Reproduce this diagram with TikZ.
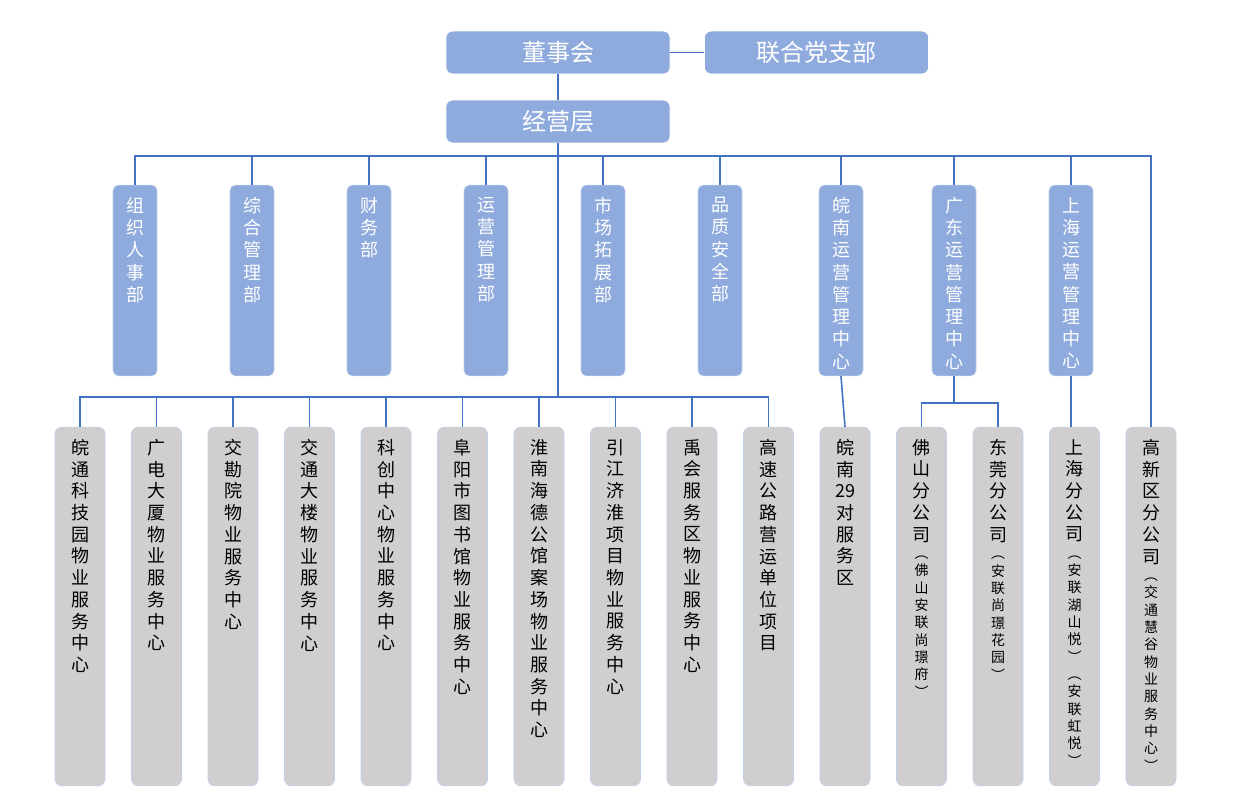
\documentclass[tikz,border=0pt]{standalone}
\usepackage{fontspec}
\setmainfont{Noto Sans CJK SC}

\definecolor{boxblue}{RGB}{143,170,220}
\definecolor{boxgray}{RGB}{208,206,206}
\definecolor{linkblue}{RGB}{68,114,196}
\definecolor{rimblue}{RGB}{190,206,235}

\newcommand{\smtxt}{\fontsize{10.5}{13}\selectfont}
\newcommand{\deptcol}[1]{\parbox[c][125pt][t]{20pt}{\centering\fontsize{13.5}{16.7}\selectfont #1}}
\newcommand{\unitcol}[1]{\parbox[c][251pt][t]{26pt}{\centering\fontsize{13.5}{16.3}\selectfont #1}}

\begin{document}
\begin{tikzpicture}[x=0.75pt,y=-0.75pt,node distance=87.75pt,
    headbox/.style={rectangle, rounded corners=5pt, fill=boxblue, draw=white, text=white,
        minimum width=168pt, minimum height=32pt, font=\fontsize{18}{20}\selectfont},
    deptbox/.style={rectangle, rounded corners=4pt, fill=boxblue, draw=rimblue, text=white,
        minimum width=33pt, inner xsep=0pt, inner ysep=9pt},
    unitbox/.style={rectangle, rounded corners=5pt, fill=boxgray, draw=rimblue, text=black,
        minimum width=37.5pt, inner xsep=0pt, inner ysep=9pt, node distance=57.375pt},
    link/.style={draw=linkblue, line width=1.2pt}]
    \useasboundingbox (0,0) rectangle (1233,811);

    % top
    \node [headbox] (board) at (558,52.5) {董事会};
    \node [headbox] (party) at (816.5,52.5) {联合党支部};
    \node [headbox] (mgmt) at (558,121.5) {经营层};

    % departments
    \node [deptbox] (d1) at (135,280.5) {\deptcol{组\\织\\人\\事\\部}};
    \node [deptbox, right of=d1] (d2) {\deptcol{综\\合\\管\\理\\部}};
    \node [deptbox, right of=d2] (d3) {\deptcol{财\\务\\部}};
    \node [deptbox, right of=d3] (d4) {\deptcol{运\\营\\管\\理\\部}};
    \node [deptbox, right of=d4] (d5) {\deptcol{市\\场\\拓\\展\\部}};
    \node [deptbox, right of=d5] (d6) {\deptcol{品\\质\\安\\全\\部}};
    \node [deptbox] (d7) at (841,280.5) {\deptcol{皖\\南\\运\\营\\管\\理\\中\\心}};
    \node [deptbox] (d8) at (954,280.5) {\deptcol{广\\东\\运\\营\\管\\理\\中\\心}};
    \node [deptbox, right of=d8] (d9) {\deptcol{上\\海\\运\\营\\管\\理\\中\\心}};

    % units
    \node [unitbox] (u1) at (80,606.5) {\unitcol{皖\\通\\科\\技\\园\\物\\业\\服\\务\\中\\心}};
    \node [unitbox, right of=u1] (u2) {\unitcol{广\\电\\大\\厦\\物\\业\\服\\务\\中\\心}};
    \node [unitbox, right of=u2] (u3) {\unitcol{交\\勘\\院\\物\\业\\服\\务\\中\\心}};
    \node [unitbox, right of=u3] (u4) {\unitcol{交\\通\\大\\楼\\物\\业\\服\\务\\中\\心}};
    \node [unitbox, right of=u4] (u5) {\unitcol{科\\创\\中\\心\\物\\业\\服\\务\\中\\心}};
    \node [unitbox, right of=u5] (u6) {\unitcol{阜\\阳\\市\\图\\书\\馆\\物\\业\\服\\务\\中\\心}};
    \node [unitbox, right of=u6] (u7) {\unitcol{淮\\南\\海\\德\\公\\馆\\案\\场\\物\\业\\服\\务\\中\\心}};
    \node [unitbox, right of=u7] (u8) {\unitcol{引\\江\\济\\淮\\项\\目\\物\\业\\服\\务\\中\\心}};
    \node [unitbox, right of=u8] (u9) {\unitcol{禹\\会\\服\\务\\区\\物\\业\\服\\务\\中\\心}};
    \node [unitbox, right of=u9] (u10) {\unitcol{高\\速\\公\\路\\营\\运\\单\\位\\项\\目}};
    \node [unitbox, right of=u10] (u11) {\unitcol{皖\\南\\29\\对\\服\\务\\区}};
    \node [unitbox, right of=u11] (u12) {\unitcol{佛\\山\\分\\公\\司\par
        \smtxt ︵\\佛\\山\\安\\联\\尚\\璟\\府\\︶}};
    \node [unitbox, right of=u12] (u13) {\unitcol{东\\莞\\分\\公\\司\par
        \smtxt ︵\\安\\联\\尚\\璟\\花\\园\\︶}};
    \node [unitbox, right of=u13] (u14) {\unitcol{上\\海\\分\\公\\司\par
        \smtxt ︵\\安\\联\\湖\\山\\悦\\︶\\︵\\安\\联\\虹\\悦\\︶}};
    \node [unitbox, right of=u14] (u15) {\unitcol{高\\新\\区\\分\\公\\司\par
        \smtxt ︵\\交\\通\\慧\\谷\\物\\业\\服\\务\\中\\心\\︶}};

    \coordinate (hub1) at (558,156);
    \coordinate (hub2) at (558,397);
    \coordinate (hub3) at (954,403);

    % links
    \draw [link] (board) -- (party);
    \draw [link] (board) -- (mgmt);
    \draw [link] (mgmt) -- (hub2);
    \draw [link] (d1.north) |- (hub1) -| (u15.north);
    \draw [link] (d2.north) -- (d2.north |- hub1);
    \draw [link] (d3.north) -- (d3.north |- hub1);
    \draw [link] (d4.north) -- (d4.north |- hub1);
    \draw [link] (d5.north) -- (d5.north |- hub1);
    \draw [link] (d6.north) -- (d6.north |- hub1);
    \draw [link] (d7.north) -- (d7.north |- hub1);
    \draw [link] (d8.north) -- (d8.north |- hub1);
    \draw [link] (d9.north) -- (d9.north |- hub1);
    \draw [link] (u1.north) |- (hub2) -| (u10.north);
    \draw [link] (u2.north) -- (u2.north |- hub2);
    \draw [link] (u3.north) -- (u3.north |- hub2);
    \draw [link] (u4.north) -- (u4.north |- hub2);
    \draw [link] (u5.north) -- (u5.north |- hub2);
    \draw [link] (u6.north) -- (u6.north |- hub2);
    \draw [link] (u7.north) -- (u7.north |- hub2);
    \draw [link] (u8.north) -- (u8.north |- hub2);
    \draw [link] (u9.north) -- (u9.north |- hub2);
    \draw [link] (d7.south) -- (u11.north);
    \draw [link] (d8.south) -- (hub3);
    \draw [link] (u12.north) |- (hub3) -| (u13.north);
    \draw [link] (d9.south) -- (d9.south |- u14.north);
\end{tikzpicture}
\end{document}
